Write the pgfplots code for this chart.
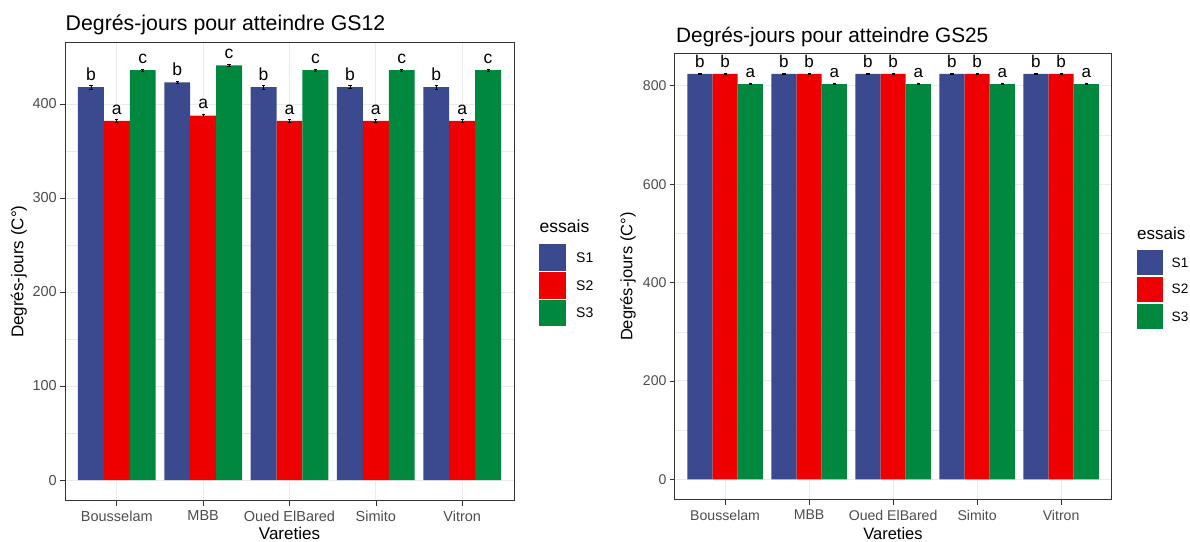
\documentclass[border=0pt]{standalone}
\usepackage{fontspec}
\setmainfont{Liberation Sans}
\usepackage{pgfplots}
\pgfplotsset{compat=1.18}
\definecolor{cA}{RGB}{59,74,143}
\definecolor{cB}{RGB}{238,0,0}
\definecolor{cC}{RGB}{0,136,62}
\definecolor{gridmaj}{RGB}{235,235,235}
\definecolor{tickgray}{RGB}{77,77,77}
\definecolor{bordergray}{RGB}{51,51,51}
\newcommand{\fs}[1]{\fontsize{#1bp}{#1bp}\selectfont}

\pgfplotstableread{
x y e l
0.7 418 2 b
1.7 423 1.5 b
2.7 418 2 b
3.7 418 1.5 b
4.7 418 2 b
}\gaS
\pgfplotstableread{
x y e l
1 382 1.5 a
2 387.5 1.5 a
3 382 1.5 a
4 382 1.5 a
5 382 1.5 a
}\gaT
\pgfplotstableread{
x y e l
1.3 436 1.2 c
2.3 441 1.5 c
3.3 436 1.2 c
4.3 436 1.2 c
5.3 436 1.2 c
}\gaU
\pgfplotstableread{
x y e l
0.7 824 0.3 b
1.7 824 0.3 b
2.7 824 0.3 b
3.7 824 0.3 b
4.7 824 0.3 b
}\gbS
\pgfplotstableread{
x y e l
1 824 0.3 b
2 824 0.3 b
3 824 0.3 b
4 824 0.3 b
5 824 0.3 b
}\gbT
\pgfplotstableread{
x y e l
1.3 803.5 0.3 a
2.3 803.5 0.3 a
3.3 803.5 0.3 a
4.3 803.5 0.3 a
5.3 803.5 0.3 a
}\gbU

\pgfplotsset{
  ggbase/.style={
    scale only axis,
    xmin=0.4, xmax=5.6,
    xtick={1,2,3,4,5},
    xticklabels={Bousselam,MBB,Oued ElBared,Simito,Vitron},
    xtick pos=lower, ytick pos=left,
    tick align=outside,
    major tick length=5bp,
    minor tick length=0bp,
    minor y tick num=1,
    major tick style={color=bordergray, line width=0.7bp},
    axis line style={color=bordergray, line width=1bp},
    xmajorgrids=true, ymajorgrids=true, yminorgrids=true,
    major grid style={gridmaj, line width=0.9bp},
    minor grid style={gridmaj, line width=0.45bp},
    /pgf/number format/assume math mode=true,
    ticklabel style={color=tickgray},
    xticklabel style={anchor=north, inner sep=0pt, yshift=-5bp},
    yticklabel style={anchor=east, inner sep=0pt, xshift=-3bp},
    point meta=explicit symbolic,
  },
  ggbar/.style={
    ybar, bar width=0.3, bar shift=0pt, fill=#1, draw=none,
    nodes near coords,
    every node near coord/.append style={anchor=base, inner sep=0pt, yshift=6.8bp, color=black},
    error bars/.cd, y dir=both, y explicit,
    error bar style={black, line width=0.8bp},
    error mark options={rotate=90, mark size=1.6bp, black, line width=0.8bp},
  },
}

\begin{document}
\begin{tikzpicture}[x=1bp,y=1bp]
\useasboundingbox (0,0) rectangle (1190,542);

% ---------- left panel ----------
\begin{axis}[ggbase,
  at={(65bp,41.3bp)}, anchor=south west,
  width=449bp, height=458bp,
  ymin=-22, ymax=465.2,
  ytick={0,100,200,300,400},
  ticklabel style={font=\fs{14.5}},
  nodes near coords style={font=\fs{17.5}},
]
\addplot[ggbar=cA] table[x=x,y=y,y error=e,meta=l]{\gaS};
\addplot[ggbar=cB] table[x=x,y=y,y error=e,meta=l]{\gaT};
\addplot[ggbar=cC] table[x=x,y=y,y error=e,meta=l]{\gaU};
\end{axis}

\node[anchor=base west, inner sep=0pt, font=\fs{21.3}] at (65.5,511) {Degrés-jours pour atteindre GS12};
\node[rotate=90, inner sep=0pt, font=\fs{17}] at (19,270.3) {Degrés-jours (C°)};
\node[anchor=base, inner sep=0pt, font=\fs{17}] at (289.5,2.5) {Vareties};

% left legend
\node[anchor=base west, inner sep=0pt, font=\fs{17.5}] at (539.5,309) {essais};
\fill[cA] (539.3,271) rectangle (566,297.7);
\fill[cB] (539.3,243) rectangle (566,269.7);
\fill[cC] (539.3,216) rectangle (566,242.3);
\node[anchor=west, inner sep=0pt, font=\fs{14}] at (576,284.4) {S1};
\node[anchor=west, inner sep=0pt, font=\fs{14}] at (576,256.4) {S2};
\node[anchor=west, inner sep=0pt, font=\fs{14}] at (576,229.2) {S3};

% ---------- right panel ----------
\begin{axis}[ggbase,
  at={(674.7bp,42bp)}, anchor=south west,
  width=436.8bp, height=446.7bp,
  ymin=-42, ymax=866,
  ytick={0,200,400,600,800},
  ticklabel style={font=\fs{14.1}},
  nodes near coords style={font=\fs{17}},
]
\addplot[ggbar=cA] table[x=x,y=y,y error=e,meta=l]{\gbS};
\addplot[ggbar=cB] table[x=x,y=y,y error=e,meta=l]{\gbT};
\addplot[ggbar=cC] table[x=x,y=y,y error=e,meta=l]{\gbU};
\end{axis}

\node[anchor=base west, inner sep=0pt, font=\fs{20.8}] at (676,499.7) {Degrés-jours pour atteindre GS25};
\node[rotate=90, inner sep=0pt, font=\fs{16.5}] at (628,265.3) {Degrés-jours (C°)};
\node[anchor=base, inner sep=0pt, font=\fs{16.5}] at (893,2.5) {Vareties};

% right legend
\node[anchor=base west, inner sep=0pt, font=\fs{17}] at (1137,302) {essais};
\fill[cA] (1136.7,267) rectangle (1162.7,292);
\fill[cB] (1136.7,240.3) rectangle (1162.7,265.3);
\fill[cC] (1136.7,213) rectangle (1162.7,237.7);
\node[anchor=west, inner sep=0pt, font=\fs{13.6}] at (1171.5,279.5) {S1};
\node[anchor=west, inner sep=0pt, font=\fs{13.6}] at (1171.5,252.8) {S2};
\node[anchor=west, inner sep=0pt, font=\fs{13.6}] at (1171.5,225.3) {S3};
\end{tikzpicture}
\end{document}
